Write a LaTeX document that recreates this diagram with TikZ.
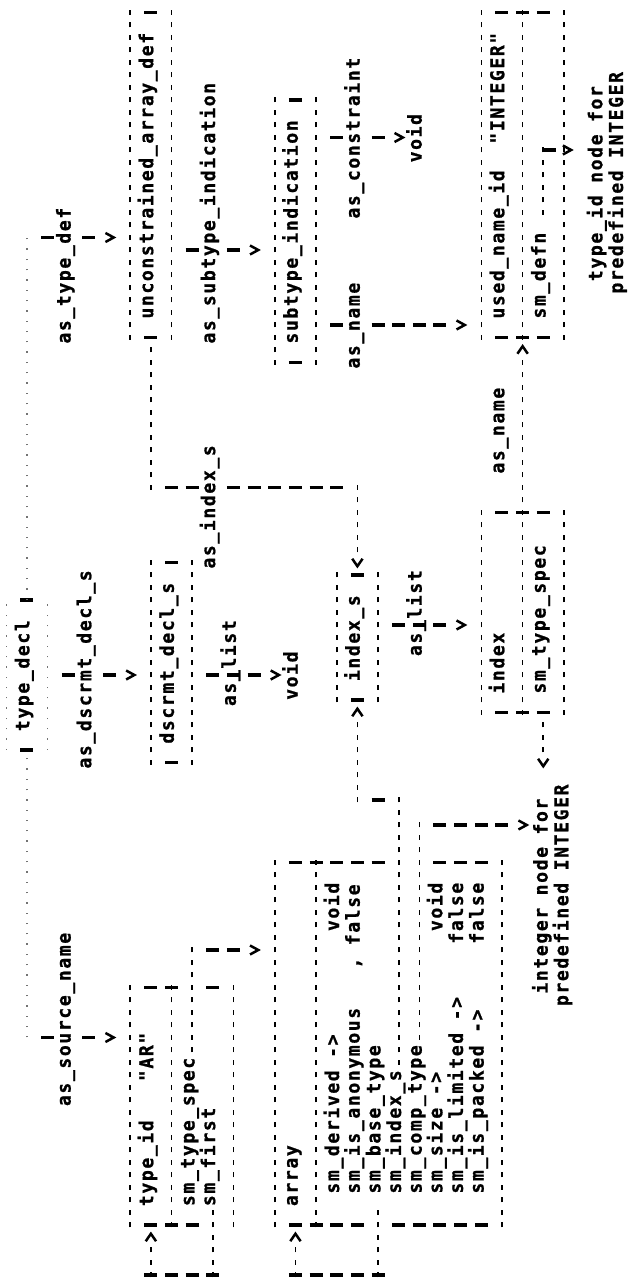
\documentclass[tikz,border=0pt]{standalone}
\usepackage{fontspec}
\newfontfamily\ttb[LetterSpace=9.2, BoldFeatures={FakeBold=1}]{DejaVu Sans Mono}
\begin{document}
\begin{tikzpicture}[
  lbl/.style={anchor=mid west, inner sep=0pt, text=black, yscale=1.06,
    font=\ttb\bfseries\fontsize{18}{18}\selectfont},
  hrule/.style={line width=1.6pt, dash pattern=on 5pt off 7.5pt},
  vrule/.style={line width=3.2pt, dash pattern=on 13pt off 7.65pt},
  faint/.style={line width=1.1pt, dash pattern=on 1.3pt off 9pt, black!55},
  tipline/.style={line width=2.5pt, line join=miter, line cap=butt},
  pics/tipd/.style={code={\draw[tipline] (-0.36,-0.2) -- (0,0.2) -- (0.36,-0.2);}},
  pics/tipr/.style={code={\draw[tipline] (-0.3,-0.25) -- (0.3,0) -- (-0.3,0.25);}},
  pics/tipl/.style={code={\draw[tipline] (0.3,-0.25) -- (-0.3,0) -- (0.3,0.25);}},
]
\fill[white] (0,0) rectangle (641pt,1283pt);
\useasboundingbox (0,0) rectangle (641pt,1283pt);
% the listing is laid out on a character grid: x = column, y = printed line
\begin{scope}[shift={(27pt,8pt)}, rotate=90, x=12.5pt, y=-20.65pt, transform shape]

% ---------- texts ----------
\node[lbl] (tdecl) at (43.5,0) {type\_decl};
\node[lbl] (srcname) at (13.5,2) {as\_source\_name};
\node[lbl] (typedef) at (74.5,2) {as\_type\_def};
\node[lbl] (dscrmt) at (40.5,3) {as\_dscrmt\_decl\_s};
\node[lbl] (typeid) at (5.5,6) {type\_id};
\node[lbl] (arname) at (15.5,6) {"AR"};
\node[lbl] (tspec) at (5.5,8) {sm\_type\_spec};
\node[lbl] (first) at (5.5,9) {sm\_first};
\node[lbl] (dscbox) at (42.5,7) {dscrmt\_decl\_s};
\node[lbl] (ucad) at (76.5,6) {unconstrained\_array\_def};
\node[lbl] (aslistA) at (45.5,10) {as\_list};
\node[lbl] (asindex) at (56.5,9) {as\_index\_s};
\node[lbl] (assubind) at (74.5,9) {as\_subtype\_indication};
\node[lbl] (arr) at (5.5,13) {array};
\node[lbl] (voidA) at (46,13) {void};
\node[lbl] (subind) at (74.5,13) {subtype\_indication};
\node[lbl] (fderiv) at (6.5,15) {sm\_derived ->};
\node[lbl] (vderiv) at (27.5,15) {void};
\node[lbl] (fanon) at (6.5,16) {sm\_is\_anonymous};
\node[lbl] (vanon) at (24.5,16) {, false};
\node[lbl] (fbase) at (6.5,17) {sm\_base\_type};
\node[lbl] (findex) at (6.5,18) {sm\_index\_s};
\node[lbl] (fcomp) at (6.5,19) {sm\_comp\_type};
\node[lbl] (fsize) at (6.5,20) {sm\_size ->};
\node[lbl] (vsize) at (27.5,20) {void};
\node[lbl] (flim) at (6.5,21) {sm\_is\_limited ->};
\node[lbl] (vlim) at (26.5,21) {false};
\node[lbl] (fpack) at (6.5,22) {sm\_is\_packed ->};
\node[lbl] (vpack) at (26.5,22) {false};
\node[lbl] (idxs) at (47.5,16) {index\_s};
\node[lbl] (asnameA) at (72.5,16) {as\_name};
\node[lbl] (ascons) at (84.5,16) {as\_constraint};
\node[lbl] (aslistB) at (49.5,19) {as\_list};
\node[lbl] (voidB) at (89,19) {void};
\node[lbl] (idx) at (46.5,23) {index};
\node[lbl] (idxspec) at (46.5,25) {sm\_type\_spec};
\node[lbl] (asnameB) at (64.1,23) {as\_name};
\node[lbl] (uname) at (76.5,23) {used\_name\_id};
\node[lbl] (intq) at (90.5,23) {"INTEGER"};
\node[lbl] (defn) at (76.5,25) {sm\_defn};
\node[lbl] (intnodeA) at (22.5,25.1) {integer node for};
\node[lbl] (intnodeB) at (21.5,26.1) {predefined INTEGER};
\node[lbl] (tidnodeA) at (79.5,27.75) {type\_id node for};
\node[lbl] (tidnodeB) at (78.5,28.75) {predefined INTEGER};

% ---------- box frames ----------
% type_decl
\draw[faint] (42,-1) -- (54,-1) (42,1) -- (54,1);
\draw[vrule] (42,-0.315) -- (42,0.315) (54,-0.315) -- (54,0.315);
% type_id "AR"
\draw[hrule] (3.8,5) -- (23.2,5) (3.8,7) -- (23.2,7) (3.8,10) -- (23.2,10);
\draw[vrule] (4,5.685) -- (4,8.315) (23,5.685) -- (23,7.315) (23,8.685) -- (23,9.315);
% array
\draw[hrule] (3.8,12) -- (33.2,12) (3.8,14) -- (33.2,14) (3.8,23) -- (33.2,23);
\draw[vrule] (4,12.685) -- (4,16.315) (4,17.685) -- (4,22.315);
\draw[vrule] (33,12.685) -- (33,17.315) (33,19.685) -- (33,22.315);
% dscrmt_decl_s
\draw[hrule] (40.8,6) -- (57.2,6) (40.8,8) -- (57.2,8);
\draw[vrule] (41,6.685) -- (41,7.315) (57,6.685) -- (57,7.315);
% unconstrained_array_def
\draw[hrule] (74.8,5) -- (101.2,5) (74.8,7) -- (101.2,7);
\draw[vrule] (75,5.685) -- (75,6.315) (101,5.685) -- (101,6.315);
% index_s
\draw[hrule] (45.8,15) -- (56.2,15) (45.8,17) -- (56.2,17);
\draw[vrule] (46,15.685) -- (46,16.315) (56,15.685) -- (56,16.315);
% subtype_indication
\draw[hrule] (72.8,12) -- (94.2,12) (72.8,14) -- (94.2,14);
\draw[vrule] (73,12.685) -- (73,13.315) (94,12.685) -- (94,13.315);
% index
\draw[hrule] (44.8,22) -- (61.2,22) (44.8,24) -- (61.2,24) (44.8,26) -- (61.2,26);
\draw[vrule] (45,22.685) -- (45,25.315) (61,22.685) -- (61,25.315);
% used_name_id "INTEGER"
\draw[hrule] (74.8,22) -- (101.2,22) (74.8,24) -- (101.2,24) (74.8,26) -- (101.2,26);
\draw[vrule] (75,22.685) -- (75,25.315) (101,22.685) -- (101,25.315);

% ---------- connector end points ----------
\coordinate (rootL) at (19,0);   \coordinate (tdeclL) at (42,0);
\coordinate (tdeclR) at (54,0);  \coordinate (rootR) at (83,0);
\coordinate (srcA) at (19,0.685); \coordinate (srcB) at (19,1.315);
\coordinate (srcC) at (19,2.685); \coordinate (srcD) at (19,3.315);
\coordinate (srcV) at (19,4);
\coordinate (dscA) at (48,1.685); \coordinate (dscB) at (48,2.315);
\coordinate (dscC) at (48,3.685); \coordinate (dscD) at (48,4.315);
\coordinate (dscV) at (48,5);
\coordinate (defA) at (83,0.685); \coordinate (defB) at (83,1.315);
\coordinate (defC) at (83,2.685); \coordinate (defD) at (83,3.315);
\coordinate (defV) at (83,4);
\coordinate (tsA) at (17.8,8); \coordinate (tsB) at (26.2,8);
\coordinate (tsC) at (26,8.685); \coordinate (tsD) at (26,10.315);
\coordinate (tsV) at (26,11);
\coordinate (fiA) at (5.2,9); \coordinate (fiB) at (-0.2,9);
\coordinate (fiC) at (0,9.315); \coordinate (fiD) at (0,5.685);
\coordinate (fiE) at (-0.2,6); \coordinate (fiF) at (2.2,6);
\coordinate (fiV) at (3,6);
\coordinate (bsA) at (5.2,17); \coordinate (bsB) at (-0.2,17);
\coordinate (bsC) at (0,17.315); \coordinate (bsD) at (0,12.685);
\coordinate (bsE) at (-0.2,13); \coordinate (bsF) at (2.2,13);
\coordinate (bsV) at (3,13);
\coordinate (ixA) at (16.8,18); \coordinate (ixB) at (38.2,18);
\coordinate (ixC) at (38,17.315); \coordinate (ixD) at (38,16.685);
\coordinate (ixE) at (37.8,16); \coordinate (ixF) at (44.2,16);
\coordinate (ixV) at (45,16);
\coordinate (cmA) at (18.8,19); \coordinate (cmB) at (36.2,19);
\coordinate (cmC) at (36,19.685); \coordinate (cmD) at (36,23.315);
\coordinate (cmV) at (36,24);
\coordinate (lsA) at (48,8.685); \coordinate (lsB) at (48,11.315);
\coordinate (lsV) at (48,12);
\coordinate (aiA) at (74.2,6); \coordinate (aiB) at (62.8,6);
\coordinate (aiC) at (63,6.685); \coordinate (aiD) at (63,8.315);
\coordinate (aiE) at (63,9.685); \coordinate (aiF) at (63,15.315);
\coordinate (aiG) at (63.2,16); \coordinate (aiH) at (57.8,16);
\coordinate (aiV) at (57,16);
\coordinate (lbA) at (52,17.685); \coordinate (lbB) at (52,20.315);
\coordinate (lbV) at (52,21);
\coordinate (siA) at (82,7.685); \coordinate (siB) at (82,8.315);
\coordinate (siC) at (82,9.685); \coordinate (siD) at (82,10.315);
\coordinate (siV) at (82,11);
\coordinate (naA) at (76,14.685); \coordinate (naB) at (76,15.315);
\coordinate (naC) at (76,16.685); \coordinate (naD) at (76,20.315);
\coordinate (naV) at (76,21);
\coordinate (coA) at (91,14.685); \coordinate (coB) at (91,15.315);
\coordinate (coC) at (91,16.685); \coordinate (coD) at (91,17.315);
\coordinate (coV) at (91,18);
\coordinate (isA) at (44.2,25); \coordinate (isB) at (41.8,25);
\coordinate (isV) at (41,25);
\coordinate (nbA) at (61.8,24); \coordinate (nbB) at (73.2,24);
\coordinate (nbV) at (74,24);
\coordinate (dfA) at (84.8,25); \coordinate (dfB) at (90.2,25);
\coordinate (dfC) at (90,25); \coordinate (dfD) at (90,25.6);
\coordinate (dfV) at (90,26.15);

% ---------- connectors ----------
% type_decl and its three children
\draw[faint] (rootL) -- (tdeclL) (tdeclR) -- (rootR);
\draw[vrule] (srcA) -- (srcB) (srcC) -- (srcD);
\pic at (srcV) {tipd};
\draw[vrule] (dscA) -- (dscB) (dscC) -- (dscD);
\pic at (dscV) {tipd};
\draw[vrule] (defA) -- (defB) (defC) -- (defD);
\pic at (defV) {tipd};
% sm_type_spec -> array
\draw[hrule] (tsA) -- (tsB);
\draw[vrule] (tsC) -- (tsD);
\pic at (tsV) {tipd};
% sm_first back to type_id
\draw[hrule] (fiB) -- (fiA);
\draw[vrule] (fiD) -- (fiC);
\draw[hrule] (fiE) -- (fiF);
\pic at (fiV) {tipr};
% sm_base_type back to array
\draw[hrule] (bsB) -- (bsA);
\draw[vrule] (bsD) -- (bsC);
\draw[hrule] (bsE) -- (bsF);
\pic at (bsV) {tipr};
% sm_index_s -> index_s
\draw[hrule] (ixA) -- (ixB);
\draw[vrule] (ixD) -- (ixC);
\draw[hrule] (ixE) -- (ixF);
\pic at (ixV) {tipr};
% sm_comp_type -> integer node
\draw[hrule] (cmA) -- (cmB);
\draw[vrule] (cmC) -- (cmD);
\pic at (cmV) {tipd};
% as_list of dscrmt_decl_s
\draw[vrule] (lsA) -- (lsB);
\pic at (lsV) {tipd};
% as_index_s
\draw[hrule] (aiB) -- (aiA);
\draw[vrule] (aiC) -- (aiD) (aiE) -- (aiF);
\draw[hrule] (aiH) -- (aiG);
\pic at (aiV) {tipl};
% as_list of index_s
\draw[vrule] (lbA) -- (lbB);
\pic at (lbV) {tipd};
% as_subtype_indication
\draw[vrule] (siA) -- (siB) (siC) -- (siD);
\pic at (siV) {tipd};
% as_name and as_constraint of subtype_indication
\draw[vrule] (naA) -- (naB) (naC) -- (naD);
\pic at (naV) {tipd};
\draw[vrule] (coA) -- (coB) (coC) -- (coD);
\pic at (coV) {tipd};
% sm_type_spec of index
\draw[hrule] (isB) -- (isA);
\pic at (isV) {tipl};
% as_name of index
\draw[hrule] (nbA) -- (nbB);
\pic at (nbV) {tipr};
% sm_defn
\draw[hrule] (dfA) -- (dfB);
\draw[vrule] (dfC) -- (dfD);
\pic at (dfV) {tipd};

\end{scope}
\end{tikzpicture}
\end{document}
